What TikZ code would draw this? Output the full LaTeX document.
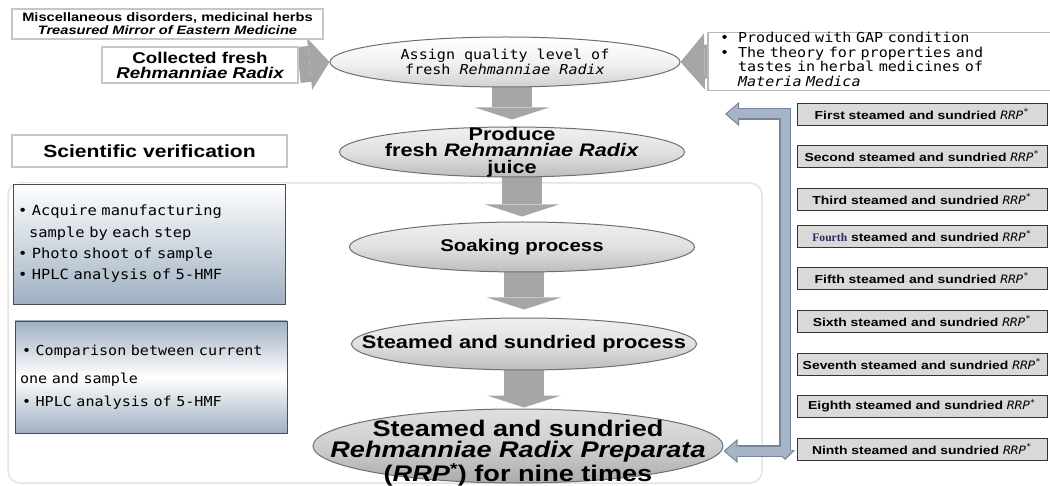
\documentclass[tikz,border=0pt]{standalone}
\usepackage{fontspec}
\setmainfont{Liberation Sans}
\newfontfamily\gul[FakeStretch=1.1]{DejaVu Sans Mono}
\newfontfamily\wide[FakeStretch=1.2]{Liberation Sans}
\newfontfamily\ser{Liberation Serif}
\usetikzlibrary{shapes.geometric,arrows.meta,calc}
\definecolor{arrowgray}{RGB}{166,166,166}
\definecolor{boxblue}{RGB}{160,176,194}
\definecolor{ellline}{RGB}{105,112,124}
\definecolor{bdr}{RGB}{118,134,154}
\definecolor{lightb}{RGB}{165,181,199}
\definecolor{stepfill}{RGB}{217,217,217}
\definecolor{fourth}{RGB}{40,40,90}
\newcommand\myfs[2]{\fontsize{#1}{#2}\selectfont}
\newcommand\rrp{{\gul\mdseries\itshape RRP\textsuperscript{*}}}
\pgfdeclarelayer{bg}
\pgfsetlayers{bg,main}
\begin{document}
\begin{tikzpicture}[x=1pt,y=-1pt,
 proc/.style={ellipse, draw=ellline, line width=1pt, top color=gray!12, bottom color=gray!52, middle color=gray!24, inner sep=0pt},
 proctext/.style={inner sep=0pt, align=center},
 lightbox/.style={draw=gray!45, line width=1.8pt, fill=white, inner sep=0pt, align=center},
 bluebox/.style={draw=gray!60!black, line width=0.9pt, inner sep=5pt, align=left, text width=262pt},
 stepbox/.style={draw=gray!40!black, line width=0.8pt, fill=stepfill, minimum width=250pt, minimum height=22pt, inner sep=0pt, font=\wide\myfs{11.6}{12}\bfseries},
 bigdown/.style={arrowgray, line width=40pt, -{Triangle[width=74pt,length=12pt,line width=0pt]}},
 bigside/.style={arrowgray, line width=36pt, -{Triangle[width=52pt,length=20pt,line width=0pt]}},
 blueout/.style={bdr, line width=12pt, line join=miter},
 bluein/.style={lightb, line width=9pt, line join=miter},
]
\useasboundingbox (0,0) rectangle (1050,486);

% background panel
\begin{pgfonlayer}{bg}
\fill[white] (0,0) rectangle (1050,486);
\node[draw=gray!22, line width=1.5pt, rounded corners=12pt, minimum width=754pt, minimum height=300pt, fill=white] (panel) at (385,333) {};
\end{pgfonlayer}

% top left sources
\node[lightbox, line width=1.5pt, minimum width=311pt, minimum height=30pt, font=\wide\myfs{12.2}{13}\bfseries] (misc) at (167.5,24)
 {Miscellaneous disorders, medicinal herbs\\\itshape Treasured Mirror of Eastern Medicine};
\node[lightbox, minimum width=196pt, minimum height=36pt, font=\wide\myfs{15.6}{15}\bfseries] (coll) at (200,65)
 {Collected fresh\\\itshape Rehmanniae Radix};

% right top box
\node[draw=gray!55, line width=1.5pt, fill=white, minimum width=345pt, minimum height=51pt, inner sep=0pt, text width=345pt, align=left, font=\gul\myfs{13.7}{13.5}] (rbox) at (880.5,61.5)
 {\begin{tabular}{@{\hspace*{12pt}}l@{\hspace{9pt}}l@{}}
 \textbullet & Produced with GAP condition\\
 \textbullet & The theory for properties and\\
  & tastes in herbal medicines of\\
  & \textit{Materia Medica}
 \end{tabular}};

% process ellipses
\node[proc, top color=white, bottom color=gray!36, middle color=gray!10, minimum width=350pt, minimum height=50pt] (e1) at (505,62) {};
\node[proctext, font=\gul\myfs{13.7}{15}] (t1) at (e1) {Assign quality level of\\fresh \textit{Rehmanniae Radix}};
\node[proc, minimum width=345pt, minimum height=50pt] (e2) at (512,152) {};
\node[proctext, font=\wide\myfs{18.1}{16.5}\bfseries] (t2) at (e2) {Produce\\fresh \textit{Rehmanniae Radix}\\juice};
\node[proc, minimum width=345pt, minimum height=50pt] (e3) at (522,247) {};
\node[proctext, font=\wide\myfs{17}{18}\bfseries] (t3) at (e3) {Soaking process};
\node[proc, minimum width=345pt, minimum height=52pt] (e4) at (524,344) {};
\node[proctext, font=\wide\myfs{18.2}{18}\bfseries] (t4) at (e4) {Steamed and sundried process};
\node[proc, top color=gray!25, bottom color=gray!66, middle color=gray!38, minimum width=410pt, minimum height=74pt] (e5) at (518,446) {};
\node[proctext, font=\wide\myfs{22.6}{21.5}\bfseries] (t5) at ($(e5)+(0,7)$) {Steamed and sundried\\\textit{Rehmanniae Radix Preparata}\\(\textit{RRP}\textsuperscript{*}) for nine times};

% left verification
\node[lightbox, minimum width=275pt, minimum height=32pt, font=\wide\myfs{17.6}{18}\bfseries] (sci) at (149.5,151)
 {Scientific verification};
\node[bluebox, top color=white, bottom color=boxblue, minimum width=272pt, minimum height=120pt, font=\gul\myfs{14}{21.3}] (b1) at (149,244)
 {\textbullet\ Acquire manufacturing\\\hspace*{11pt}sample by each step\\\textbullet\ Photo shoot of sample\\\textbullet\ HPLC analysis of 5-HMF};
\node[bluebox, top color=boxblue, bottom color=boxblue, middle color=white, minimum width=272pt, minimum height=112pt, font=\gul\myfs{13.7}{21}] (b2) at (151,377)
 {\hspace*{2pt}\textbullet\ Comparison between current\\[7pt]one and sample\\[2pt]\hspace*{2pt}\textbullet\ HPLC analysis of 5-HMF};

% step boxes
\node[stepbox] (s1) at (922,114) {First steamed and sundried \rrp};
\node[stepbox] (s2) at (922,156) {Second steamed and sundried \rrp};
\node[stepbox] (s3) at (922,199) {Third steamed and sundried \rrp};
\node[stepbox] (s4) at (922,236) {{\ser\color{fourth}Fourth} steamed and sundried \rrp};
\node[stepbox] (s5) at (922,278) {Fifth steamed and sundried \rrp};
\node[stepbox] (s6) at (922,321) {Sixth steamed and sundried \rrp};
\node[stepbox] (s7) at (922,364) {Seventh steamed and sundried \rrp};
\node[stepbox] (s8) at (922,406) {Eighth steamed and sundried \rrp};
\node[stepbox] (s9) at (922,449) {Ninth steamed and sundried \rrp};

% big gray arrows
\begin{pgfonlayer}{bg}
\draw[bigside] (coll.east) -- (e1.west);
\draw[bigside, line width=34pt, -{Triangle[width=56pt,length=24pt,line width=0pt]}] (rbox.west) -- (e1.east);
\draw[bigdown, shorten >=7pt] (e1.south -| e2.north) -- (e2.north);
\draw[bigdown, shorten >=5pt] (e2.south -| e3.north) -- (e3.north);
\draw[bigdown, shorten >=8pt] (e3.south -| e4.north) -- (e4.north);
\draw[bigdown, shorten >=1pt] (e4.south) -- (e4.south |- e5.north);
\end{pgfonlayer}

% blue loop arrows
\coordinate (tr) at (791,114);
\coordinate (ptop) at (725,114);
\coordinate (vtop) at (785,108);
\coordinate (vbot) at (785,460);
\coordinate (vjoin) at (785,451);
\draw[blueout, -{Triangle[width=24pt,length=14pt,line width=0pt]}] (tr) -- (ptop);
\draw[blueout, -{Triangle[width=20pt,length=10pt,line width=0pt]}] (vtop) -- (vbot);
\draw[blueout, -{Triangle[width=24pt,length=14pt,line width=0pt]}] (vjoin) -- (vjoin -| e5.east);
\draw[bluein, shorten <=1.5pt, shorten >=1.8pt, -{Triangle[width=19pt,length=11pt,line width=0pt]}] (tr) -- (ptop);
\draw[bluein, shorten <=1.5pt, shorten >=1.6pt, -{Triangle[width=15.5pt,length=7.8pt,line width=0pt]}] (vtop) -- (vbot);
\draw[bluein, shorten >=1.8pt, -{Triangle[width=19pt,length=11pt,line width=0pt]}] (vjoin) -- (vjoin -| e5.east);
\end{tikzpicture}
\end{document}
